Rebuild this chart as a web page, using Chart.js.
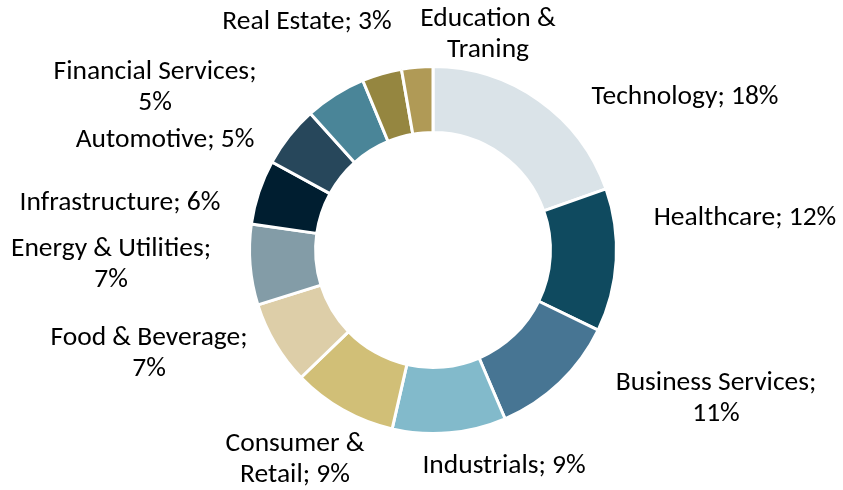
<!DOCTYPE html>
<html>
<head>
<meta charset="utf-8">
<script src="https://cdn.jsdelivr.net/npm/chart.js@4.4.1/dist/chart.umd.min.js"></script>
<style>
  html, body { margin: 0; padding: 0; background: #ffffff; }
  #wrap { width: 843px; height: 490px; position: relative; }
</style>
</head>
<body>
<div id="wrap"><canvas id="c" width="843" height="490"></canvas></div>
<script>
// ---- data ----
const categories = ['Technology', 'Healthcare', 'Business Services', 'Industrials', 'Consumer & Retail',
  'Food & Beverage', 'Energy & Utilities', 'Infrastructure', 'Automotive', 'Financial Services',
  'Real Estate', 'Education & Traning'];
// slice shares
const shares = [19.6, 12.6, 11.4, 10.0, 9.2, 7.4, 7.1, 5.7, 5.4, 5.4, 3.5, 2.75];
// label texts as printed on the chart (line breaks as shown)
const labelLines = [
  ['Technology; 18%'],
  ['Healthcare; 12%'],
  ['Business Services;', '11%'],
  ['Industrials; 9%'],
  ['Consumer &', 'Retail; 9%'],
  ['Food & Beverage;', '7%'],
  ['Energy & Utilities;', '7%'],
  ['Infrastructure; 6%'],
  ['Automotive; 5%'],
  ['Financial Services;', '5%'],
  ['Real Estate; 3%'],
  ['Education &', 'Traning']
];

// ---- style / layout ----
const colors = ['#DAE3E8', '#0F4A5F', '#477593', '#82BACB', '#D1BF77', '#DDCEA8',
  '#839CA7', '#001E30', '#27475B', '#4A8598', '#958640', '#B09A56'];
// label block centre offsets relative to the doughnut centre
const labelOffsets = [[252, -153], [312, -32], [283, 149], [71, 216], [-138, 210], [-284, 104],
  [-322, 15], [-313, -47], [-268, -110], [-278, -162], [-126, -228], [55, -215]];
const labelFont = '27.5px Carlito, Lato, "Open Sans", sans-serif';
const lineHeight = 31;

const outsideLabels = {
  id: 'outsideLabels',
  afterDraw(chart) {
    const meta = chart.getDatasetMeta(0);
    const ctx = chart.ctx;
    ctx.save();
    ctx.font = labelFont;
    ctx.fillStyle = '#000000';
    ctx.textAlign = 'center';
    ctx.textBaseline = 'middle';
    meta.data.forEach((arc, i) => {
      const lines = labelLines[i];
      const cx = arc.x + labelOffsets[i][0];
      const cy = arc.y + labelOffsets[i][1];
      const top = cy - (lines.length - 1) * lineHeight / 2;
      lines.forEach((t, k) => ctx.fillText(t, cx, top + k * lineHeight));
    });
    ctx.restore();
  }
};

new Chart(document.getElementById('c'), {
  type: 'doughnut',
  data: {
    labels: categories,
    datasets: [{
      data: shares,
      backgroundColor: colors,
      borderColor: '#ffffff',
      borderWidth: 3,
      hoverOffset: 0
    }]
  },
  options: {
    responsive: false,
    animation: false,
    cutout: '64%',
    layout: { padding: { top: 65, bottom: 55, left: 23, right: 0 } },
    plugins: {
      legend: { display: false },
      tooltip: { enabled: false }
    }
  },
  plugins: [outsideLabels]
});
</script>
</body>
</html>
